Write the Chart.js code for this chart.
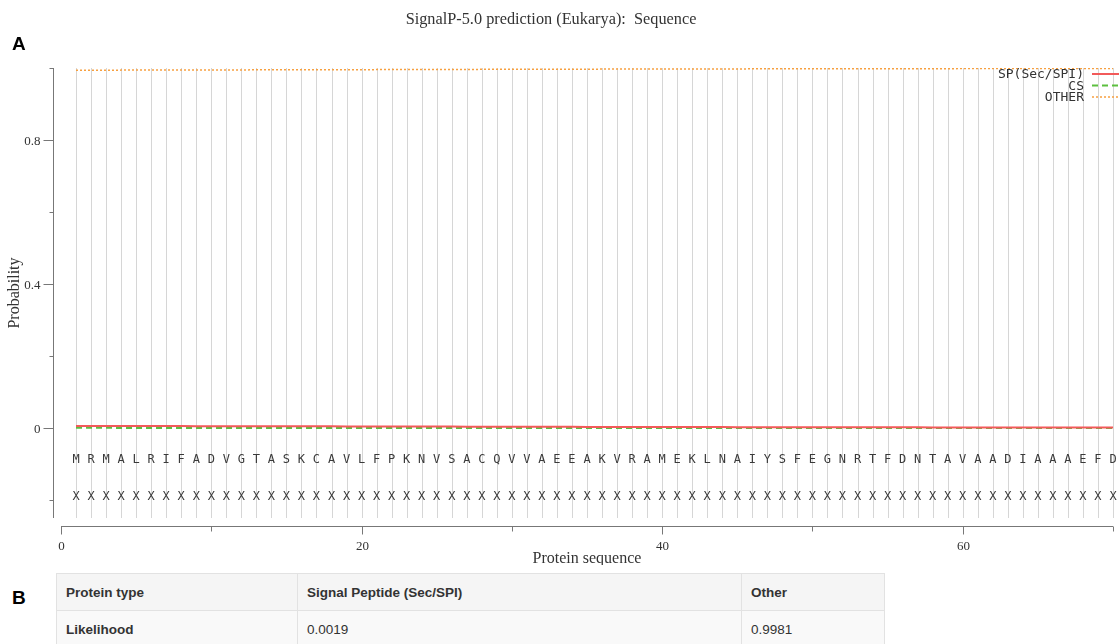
<!DOCTYPE html>
<html>
<head>
<meta charset="utf-8">
<script src="https://cdn.jsdelivr.net/npm/chart.js@4.4.1/dist/chart.umd.min.js"></script>
<style>
  body { margin: 0; background: #fff; width: 1120px; height: 644px; overflow: hidden; position: relative; }
  #plot { position: absolute; left: 0; top: 0; }
  .panel { position: absolute; font-family: "Liberation Sans", Arial, sans-serif; font-weight: bold; font-size: 19px; color: #000; }
  table { position: absolute; left: 56px; top: 573px; width: 829px; border-collapse: collapse;
          font-family: "Liberation Sans", Arial, sans-serif; font-size: 13.5px; color: #333; }
  td { border: 1px solid #e2e2e2; height: 36px; padding: 0 9px; background: #f9f9f9; }
  tr.head td { background: #f5f5f5; font-weight: bold; }
  td.lab { font-weight: bold; }
</style>
</head>
<body>
<canvas id="plot" width="1120" height="565"></canvas>
<div class="panel" style="left:12px; top:33px;">A</div>
<div class="panel" style="left:12px; top:587px;">B</div>
<table>
  <tr class="head"><td style="width:222px">Protein type</td><td style="width:425px">Signal Peptide (Sec/SPI)</td><td>Other</td></tr>
  <tr><td class="lab">Likelihood</td><td id="spCell"></td><td id="otherCell"></td></tr>
</table>
<script>
// residues of the query sequence, one per position
var residues = ['M','R','M','A','L','R','I','F','A','D','V','G','T','A','S','K','C','A','V','L',
                'F','P','K','N','V','S','A','C','Q','V','V','A','E','E','A','K','V','R','A','M',
                'E','K','L','N','A','I','Y','S','F','E','G','N','R','T','F','D','N','T','A','V',
                'A','A','D','I','A','A','A','E','F','D'];
// predicted region per residue (X = no region)
var regions = residues.map(function () { return 'X'; });

var spProb = [0.0058,0.0057,0.0057,0.0056,0.0055,0.0055,0.0054,0.0053,0.0052,0.0052,
              0.0051,0.0050,0.0049,0.0049,0.0048,0.0047,0.0046,0.0046,0.0045,0.0044,
              0.0043,0.0042,0.0041,0.0041,0.0040,0.0039,0.0038,0.0037,0.0036,0.0035,
              0.0034,0.0034,0.0033,0.0032,0.0031,0.0030,0.0030,0.0029,0.0028,0.0027,
              0.0027,0.0026,0.0025,0.0025,0.0024,0.0023,0.0023,0.0022,0.0022,0.0021,
              0.0021,0.0020,0.0020,0.0019,0.0019,0.0018,0.0018,0.0017,0.0017,0.0016,
              0.0016,0.0016,0.0015,0.0015,0.0015,0.0014,0.0014,0.0014,0.0013,0.0013];
var csProb = [0.0004,0.0004,0.0004,0.0003,0.0003,0.0003,0.0003,0.0003,0.0003,0.0003,
              0.0003,0.0003,0.0002,0.0002,0.0002,0.0002,0.0002,0.0002,0.0002,0.0002,
              0.0002,0.0002,0.0002,0.0002,0.0002,0.0002,0.0001,0.0001,0.0001,0.0001,
              0.0001,0.0001,0.0001,0.0001,0.0001,0.0001,0.0001,0.0001,0.0001,0.0001,
              0.0001,0.0001,0.0001,0.0001,0.0001,0.0001,0.0001,0.0001,0.0001,0.0001,
              0.0001,0.0001,0.0001,0.0001,0.0001,0.0001,0.0001,0.0001,0.0001,0.0001,
              0.0001,0.0001,0.0001,0.0001,0.0001,0.0001,0.0001,0.0001,0.0001,0.0001];
var otherProb = [0.9938,0.9939,0.9939,0.9941,0.9942,0.9942,0.9943,0.9944,0.9945,0.9945,
                 0.9946,0.9947,0.9949,0.9949,0.9950,0.9951,0.9952,0.9952,0.9953,0.9954,
                 0.9955,0.9956,0.9957,0.9957,0.9958,0.9959,0.9961,0.9962,0.9963,0.9964,
                 0.9965,0.9965,0.9966,0.9967,0.9968,0.9969,0.9969,0.9970,0.9971,0.9972,
                 0.9972,0.9973,0.9974,0.9974,0.9975,0.9976,0.9976,0.9977,0.9977,0.9978,
                 0.9978,0.9979,0.9979,0.9980,0.9980,0.9981,0.9981,0.9982,0.9982,0.9983,
                 0.9983,0.9983,0.9984,0.9984,0.9984,0.9985,0.9985,0.9985,0.9986,0.9986];

var yTicks = [-0.2, 0, 0.2, 0.4, 0.6, 0.8, 1.0];
var yLabels = {'0': '0', '0.4': '0.4', '0.8': '0.8'};
var xTicks = [0, 10, 20, 30, 40, 50, 60, 70];
var xLabels = {0: '0', 20: '20', 40: '40', 60: '60'};

var legendItems = [
  { text: 'SP(Sec/SPI)', color: '#f25a5a', dash: [], width: 2 },
  { text: 'CS', color: '#5cbf3f', dash: [6, 4], width: 2 },
  { text: 'OTHER', color: '#f7a040', dash: [2, 2], width: 1.5 }
];

document.getElementById('spCell').textContent = '0.0019';
document.getElementById('otherCell').textContent = '0.9981';

function points(vals) {
  return vals.map(function (v, i) { return { x: i + 1, y: v }; });
}

var serif = '"Liberation Serif", "Times New Roman", serif';
var mono = '"DejaVu Sans Mono", monospace';

var decorations = {
  id: 'decorations',
  beforeDatasetsDraw: function (chart) {
    var ctx = chart.ctx, xs = chart.scales.x, ys = chart.scales.y;
    var top = ys.getPixelForValue(1.0), bottom = ys.getPixelForValue(-0.25);
    ctx.save();
    // one vertical guide per residue
    ctx.strokeStyle = '#d6d6d6';
    ctx.lineWidth = 1;
    residues.forEach(function (r, i) {
      var px = Math.round(xs.getPixelForValue(i + 1)) + 0.5;
      ctx.beginPath(); ctx.moveTo(px, top); ctx.lineTo(px, bottom); ctx.stroke();
    });
    // residue letters and region letters
    ctx.fillStyle = '#3a3a3a';
    ctx.font = '12px ' + mono;
    ctx.textAlign = 'center';
    ctx.textBaseline = 'middle';
    var yRes = ys.getPixelForValue(-0.088), yReg = ys.getPixelForValue(-0.19);
    residues.forEach(function (r, i) {
      var px = xs.getPixelForValue(i + 1);
      ctx.fillText(r, px, yRes);
      ctx.fillText(regions[i], px, yReg);
    });
    ctx.restore();
  },
  afterDraw: function (chart) {
    var ctx = chart.ctx, xs = chart.scales.x, ys = chart.scales.y;
    var area = chart.chartArea;
    ctx.save();
    ctx.strokeStyle = '#777';
    ctx.fillStyle = '#333';
    ctx.lineWidth = 1;

    // y axis, set off from the plot
    var ax = area.left - 8 + 0.5;
    ctx.beginPath(); ctx.moveTo(ax, ys.getPixelForValue(1.0)); ctx.lineTo(ax, area.bottom); ctx.stroke();
    ctx.font = '13px ' + serif;
    ctx.textAlign = 'right';
    ctx.textBaseline = 'middle';
    yTicks.forEach(function (t) {
      var py = Math.round(ys.getPixelForValue(t)) + 0.5;
      var lab = yLabels[String(t)];
      ctx.beginPath(); ctx.moveTo(ax - (lab ? 10 : 4), py); ctx.lineTo(ax, py); ctx.stroke();
      if (lab) ctx.fillText(lab, ax - 13, py + 1);
    });

    // x axis below the plot
    var ay = area.bottom + 8 + 0.5;
    ctx.beginPath(); ctx.moveTo(xs.getPixelForValue(0), ay); ctx.lineTo(xs.getPixelForValue(70), ay); ctx.stroke();
    ctx.textAlign = 'center';
    ctx.textBaseline = 'top';
    xTicks.forEach(function (t) {
      var px = Math.round(xs.getPixelForValue(t)) + 0.5;
      var lab = xLabels[t];
      ctx.beginPath(); ctx.moveTo(px, ay); ctx.lineTo(px, ay + (lab !== undefined ? 8 : 5)); ctx.stroke();
      if (lab !== undefined) ctx.fillText(lab, px, ay + 14);
    });

    // axis titles
    ctx.font = '16px ' + serif;
    ctx.textBaseline = 'middle';
    ctx.fillText('Protein sequence', (area.left + area.right) / 2, 559);
    ctx.save();
    ctx.translate(15, (ys.getPixelForValue(1.0) + area.bottom) / 2);
    ctx.rotate(-Math.PI / 2);
    ctx.fillText('Probability', 0, 0);
    ctx.restore();

    // chart title
    ctx.font = '16.3px ' + serif;
    ctx.fillText('SignalP-5.0 prediction (Eukarya):  Sequence', 551, 20);

    // legend in the top right corner
    ctx.font = '13px ' + mono;
    ctx.textAlign = 'right';
    legendItems.forEach(function (it, i) {
      var ly = 75 + i * 11.5;
      ctx.fillStyle = '#333';
      ctx.fillText(it.text, 1084, ly);
      ctx.strokeStyle = it.color;
      ctx.lineWidth = it.width;
      ctx.setLineDash(it.dash);
      ctx.beginPath(); ctx.moveTo(1092, ly - 1); ctx.lineTo(1119, ly - 1); ctx.stroke();
    });
    ctx.restore();
  }
};

new Chart(document.getElementById('plot').getContext('2d'), {
  type: 'line',
  data: {
    datasets: [
      { label: 'SP(Sec/SPI)', data: points(spProb), borderColor: '#f25a5a', borderWidth: 2, borderDash: [] },
      { label: 'CS', data: points(csProb), borderColor: '#5cbf3f', borderWidth: 2, borderDash: [6, 4] },
      { label: 'OTHER', data: points(otherProb), borderColor: '#f7a040', borderWidth: 1.5, borderDash: [2, 2] }
    ]
  },
  options: {
    responsive: false,
    animation: false,
    layout: { padding: { left: 61, right: 7, top: 68, bottom: 47 } },
    elements: { point: { radius: 0 }, line: { tension: 0 } },
    plugins: { legend: { display: false }, tooltip: { enabled: false }, title: { display: false } },
    scales: {
      x: { type: 'linear', min: 0, max: 70, display: false },
      y: { type: 'linear', min: -0.25, max: 1.0, display: false }
    }
  },
  plugins: [decorations]
});
</script>
</body>
</html>
